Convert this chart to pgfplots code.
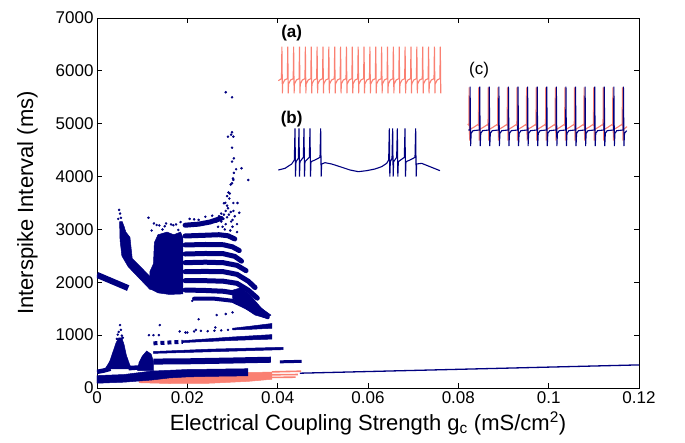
\documentclass[border=0pt]{standalone}
\usepackage{pgfplots}
\pgfplotsset{compat=1.18}
\usepackage{fontspec}
\setmainfont{Liberation Sans}
\definecolor{navy}{RGB}{0,0,128}
\definecolor{salm}{RGB}{250,128,114}
\begin{document}
\begin{tikzpicture}
\path[use as bounding box] (-97pt,-54pt) rectangle (588pt,388pt);
\begin{axis}[
 name=main, at={(0pt,0pt)}, anchor=south west,
 scale only axis, width=542pt, height=370pt,
 xmin=0, xmax=0.12, ymin=0, ymax=7000,
 xtick={0,0.02,0.04,0.06,0.08,0.1,0.12},
 xticklabels={0,0.02,0.04,0.06,0.08,0.1,0.12},
 ytick={0,1000,2000,3000,4000,5000,6000,7000},
 yticklabels={0,1000,2000,3000,4000,5000,6000,7000},
 tick align=inside, major tick length=5pt,
 every tick/.style={black, line width=0.8pt},
 axis line style={line width=0.9pt},
 ticklabel style={font=\fontsize{17}{17}\selectfont},
 label style={font=\fontsize{22}{22}\selectfont},
 xlabel={Electrical Coupling Strength g\textsubscript{c} (mS/cm\textsuperscript{2})},
 ylabel={Interspike Interval (ms)},
 xlabel style={at={(axis description cs:0.5,0)}, anchor=base, yshift=-42pt},
 ylabel style={at={(axis description cs:-0.118,0.5)}, anchor=base},
 navyband/.style={navy, line width=5pt, line cap=round},
 dots/.style={navy, only marks, mark=*, mark size=1.05pt},
]
% ---------- salmon (coupled, synchronous) ----------
\addplot[salm, fill=salm, line width=0.5pt] coordinates {(0.0093,100)(0.016,85)(0.025,90)(0.0334,125)(0.0387,165)(0.0387,300)(0.0334,295)(0.025,265)(0.016,215)(0.0093,180)(0.0093,100)};
\addplot[salm, line width=1.6pt] coordinates {(0.0387,305)(0.0452,318)};
\addplot[salm, line width=1.6pt] coordinates {(0.0387,250)(0.0445,255)};
\addplot[salm, line width=1.6pt] coordinates {(0.0387,200)(0.0440,205)};
% ---------- navy lower bands ----------
\addplot[navy, fill=navy, line width=0.5pt] coordinates {(0,90)(0,235)(0.006,255)(0.012,320)(0.02,350)(0.0334,365)(0.0334,230)(0.025,220)(0.02,210)(0.016,190)(0.012,150)(0.006,110)(0,90)};
\addplot[navy, line width=4.5pt] coordinates {(0,305)(0.0015,330)(0.003,365)};
\addplot[navy, fill=navy, line width=0.5pt] coordinates {(0.0018,360)(0.0028,500)(0.0036,700)(0.0042,850)(0.0048,950)(0.0055,950)(0.0060,820)(0.0065,620)(0.0072,450)(0.0077,360)(0.0018,360)};
\addplot[navy, line width=4.5pt] coordinates {(0.0070,375)(0.0095,390)};
\addplot[navy, fill=navy, line width=0.5pt] coordinates {(0.0090,330)(0.0093,480)(0.0100,600)(0.0110,700)(0.0120,640)(0.0125,500)(0.0125,330)(0.0090,330)};
\addplot[navy, line width=6pt] coordinates {(0.0125,500)(0.02,505)(0.03,520)(0.0385,535)};
\addplot[navy, line width=3pt] coordinates {(0.0405,495)(0.0453,505)};
\addplot[navy, fill=navy, line width=0.5pt] coordinates {(0.0125,655)(0.025,685)(0.0412,725)(0.0412,770)(0.025,735)(0.0125,690)(0.0125,655)};
\addplot[navy, line width=4pt, dash pattern=on 4pt off 3pt] coordinates {(0.0125,845)(0.019,875)};
\addplot[navy, fill=navy, line width=0.5pt] coordinates {(0.019,860)(0.03,900)(0.0387,925)(0.0387,1010)(0.03,965)(0.019,895)(0.019,860)};
\addplot[navy, fill=navy, line width=0.5pt] coordinates {(0.0300,1100)(0.034,1110)(0.0387,1130)(0.0387,1220)(0.034,1170)(0.0300,1130)(0.0300,1100)};
\addplot[dots] coordinates {(0.0200,1050)(0.0215,1070)(0.023,1080)(0.0245,1075)(0.026,1085)(0.0275,1090)(0.029,1100)
 (0.0048,1060)(0.0051,1190)(0.0053,1100)(0.0055,990)(0.0046,1010)(0.0057,950)(0.0044,930)
 (0.0115,1000)(0.0125,1000)(0.0137,1000)(0.0139,1190)(0.0183,1070)(0.0219,1100)(0.0196,1050)
 (0.0225,1300)(0.0262,1145)(0.0265,1380)(0.0285,1400)(0.030,1430)(0.0211,1650)(0.0342,1960)};
% final synchronous branch
\addplot[navy, line width=1.3pt] coordinates {(0.0449,280)(0.12,437)};
% ---------- navy upper region ----------
\addplot[navy, line width=6pt] coordinates {(0,2140)(0.0069,1890)};
\addplot[navy, fill=navy, line width=0.5pt] coordinates {(0.0050,3150)(0.0056,3150)(0.0064,2950)(0.0073,2850)(0.0078,2450)(0.0121,2080)(0.0121,1870)(0.0117,1867)(0.0069,2295)(0.0055,2500)(0.0051,2800)(0.0050,3150)};
\addplot[navy, fill=navy, line width=0.5pt] coordinates {(0.0117,1880)(0.0117,2200)(0.0125,2350)(0.0127,2750)(0.0135,2900)(0.0155,2950)(0.0170,2900)(0.0185,2950)(0.0190,2850)(0.0190,1780)(0.0160,1770)(0.0135,1800)(0.0117,1880)};
\addplot[navy, fill=navy, line width=0.5pt] coordinates {(0.030,1850)(0.032,1900)(0.034,1750)(0.0365,1500)(0.0385,1380)(0.0375,1320)(0.035,1380)(0.032,1550)(0.030,1700)(0.030,1850)};
\addplot[navyband] coordinates {(0.0195,3080)(0.0225,3100)(0.025,3140)(0.0275,3210)};
\addplot[navyband] coordinates {(0.0195,2876)(0.024,2890)(0.027,2900)(0.029,2880)(0.0305,2820)};
\addplot[navyband] coordinates {(0.0195,2706)(0.024,2715)(0.028,2710)(0.030,2670)(0.0315,2600)};
\addplot[navyband] coordinates {(0.0195,2535)(0.024,2545)(0.028,2540)(0.0305,2490)(0.032,2400)};
\addplot[navyband] coordinates {(0.0195,2371)(0.024,2380)(0.028,2370)(0.031,2320)(0.033,2220)};
\addplot[navyband] coordinates {(0.0195,2201)(0.024,2205)(0.028,2200)(0.031,2150)(0.0335,2020)(0.035,1900)};
\addplot[navyband] coordinates {(0.0195,2031)(0.024,2030)(0.028,2020)(0.031,1980)(0.0335,1850)(0.0355,1700)};
\addplot[navyband] coordinates {(0.0195,1854)(0.024,1845)(0.028,1830)(0.031,1790)(0.0335,1660)(0.0355,1520)(0.0375,1380)};
\addplot[navy, line width=4pt, line cap=round] coordinates {(0.0215,1690)(0.026,1690)(0.030,1650)(0.033,1530)(0.0355,1420)(0.0378,1340)};
\addplot[dots] coordinates {(0.0049,3370)(0.0051,3300)(0.0053,3220)(0.0047,3200)(0.0055,3100)(0.0058,3050)
 (0.0114,3220)(0.0126,3113)(0.0138,3076)(0.0153,3113)(0.0164,3095)(0.0175,3095)(0.0145,3000)(0.0132,3084)(0.015,3060)(0.0169,3080)(0.018,2990)(0.0121,2980)(0.0185,3140)(0.0205,3200)(0.0215,3190)(0.0225,3180)(0.024,3240)(0.0255,3260)
 (0.0265,3150)(0.027,3250)(0.0275,3300)(0.028,3200)(0.0285,3350)(0.029,3400)(0.0292,3280)(0.0297,3150)(0.030,3050)(0.0305,3250)(0.031,3100)(0.0285,3100)(0.0278,3050)(0.0295,2980)(0.031,2950)(0.0302,3350)(0.0288,3450)(0.0275,3150)(0.0283,3000)(0.0268,3050)(0.0288,3230)(0.0296,3330)(0.0281,3280)(0.0300,3180)
 (0.0285,5595)(0.0299,5500)(0.0299,4838)(0.029,4755)(0.0302,4755)(0.0299,4547)(0.0303,4345)(0.0299,4283)(0.0308,4138)(0.032,4157)(0.0301,3964)(0.0302,3937)(0.0335,3935)(0.0299,3875)(0.0291,3700)(0.0294,3680)(0.0293,3585)(0.0281,3495)(0.0302,3500)(0.0311,3500)(0.0297,4793)(0.0303,4070)(0.0296,3850)(0.0284,3503)(0.0315,3315)(0.0288,3630)};
\end{axis}
% ---------- insets (a) and (b) ----------
\begin{axis}[at={(173pt,198pt)}, anchor=south west, scale only axis, width=220pt, height=170pt,
 xmin=0, xmax=660, ymin=0, ymax=510, y dir=reverse, hide axis, clip=false]
\addplot[salm, line width=1.1pt] coordinates {(25,182)
(34.4,176)(35.7,80)(37.2,220)(38,192)(44,180)
(52,176)(53.3,80)(54.8,220)(55.6,192)(61.6,180)
(69.6,176)(70.9,80)(72.4,220)(73.2,192)(79.2,180)
(87.2,176)(88.5,80)(90,220)(90.8,192)(96.8,180)
(104.8,176)(106.1,80)(107.6,220)(108.4,192)(114.4,180)
(122.4,176)(123.7,80)(125.2,220)(126,192)(132,180)
(140,176)(141.3,80)(142.8,220)(143.6,192)(149.6,180)
(157.6,176)(158.9,80)(160.4,220)(161.2,192)(167.2,180)
(175.2,176)(176.5,80)(178,220)(178.8,192)(184.8,180)
(192.8,176)(194.1,80)(195.6,220)(196.4,192)(202.4,180)
(210.4,176)(211.7,80)(213.2,220)(214,192)(220,180)
(228,176)(229.3,80)(230.8,220)(231.6,192)(237.6,180)
(245.6,176)(246.9,80)(248.4,220)(249.2,192)(255.2,180)
(263.2,176)(264.5,80)(266,220)(266.8,192)(272.8,180)
(280.8,176)(282.1,80)(283.6,220)(284.4,192)(290.4,180)
(298.4,176)(299.7,80)(301.2,220)(302,192)(308,180)
(316,176)(317.3,80)(318.8,220)(319.6,192)(325.6,180)
(333.6,176)(334.9,80)(336.4,220)(337.2,192)(343.2,180)
(351.2,176)(352.5,80)(354,220)(354.8,192)(360.8,180)
(368.8,176)(370.1,80)(371.6,220)(372.4,192)(378.4,180)
(386.4,176)(387.7,80)(389.2,220)(390,192)(396,180)
(404,176)(405.3,80)(406.8,220)(407.6,192)(413.6,180)
(421.6,176)(422.9,80)(424.4,220)(425.2,192)(431.2,180)
(439.2,176)(440.5,80)(442,220)(442.8,192)(448.8,180)
(456.8,176)(458.1,80)(459.6,220)(460.4,192)(466.4,180)
(474.4,176)(475.7,80)(477.2,220)(478,192)(484,180)
(492,176)(493.3,80)(494.8,220)(495.6,192)(501.6,180)
(509.6,176)(510.9,80)(512.4,220)};
\addplot[navy, line width=1.1pt] coordinates {(25,450)(45,445)(65,432)(73,420)(75,325)(76.5,470)(78,425)(85,415)(87,325)(88.5,470)(90,425)(100,412)(102,325)(103.5,470)(105,425)(118,412)(120,325)(121.5,470)(123,425)(135,420)(150,412)(152,325)(153.5,470)(155,432)(165,428)(185,432)(210,440)(240,450)(265,455)(290,452)(315,447)(335,440)(350,430)(356,420)(358,325)(359.5,470)(361,425)(366,415)(368,325)(369.5,470)(371,425)(380,412)(382,325)(383.5,470)(385,425)(403,412)(405,325)(406.5,470)(408,425)(420,420)(435,412)(437,325)(438.5,470)(440,432)(455,430)(480,440)(510,452)};
\node[font=\bfseries\fontsize{17}{17}\selectfont] at (axis cs:65,38) {(a)};
\node[font=\bfseries\fontsize{17}{17}\selectfont] at (axis cs:65,298) {(b)};
\end{axis}
% ---------- inset (c) ----------
\begin{axis}[at={(363pt,228pt)}, anchor=south west, scale only axis, width=225pt, height=110pt,
 xmin=0, xmax=675, ymin=0, ymax=330, y dir=reverse, hide axis, clip=false]
\addplot[salm, line width=1.1pt] coordinates {(23,222)
(26.5,226)(27.3,112)(28.8,272)(30.5,238)(41,232)(53,224)
(55.3,226)(56.1,112)(57.6,272)(59.3,238)(69.8,232)(81.8,224)
(84,226)(84.8,112)(86.3,272)(88,238)(98.5,232)(110.5,224)
(112.8,226)(113.6,112)(115.1,272)(116.8,238)(127.3,232)(139.3,224)
(141.5,226)(142.3,112)(143.8,272)(145.5,238)(156,232)(168,224)
(170.3,226)(171.1,112)(172.6,272)(174.3,238)(184.8,232)(196.8,224)
(199,226)(199.8,112)(201.3,272)(203,238)(213.5,232)(225.5,224)
(227.8,226)(228.6,112)(230.1,272)(231.8,238)(242.3,232)(254.3,224)
(256.5,226)(257.3,112)(258.8,272)(260.5,238)(271,232)(283,224)
(285.3,226)(286.1,112)(287.6,272)(289.3,238)(299.8,232)(311.8,224)
(314,226)(314.8,112)(316.3,272)(318,238)(328.5,232)(340.5,224)
(342.8,226)(343.6,112)(345.1,272)(346.8,238)(357.3,232)(369.3,224)
(371.5,226)(372.3,112)(373.8,272)(375.5,238)(386,232)(398,224)
(400.3,226)(401.1,112)(402.6,272)(404.3,238)(414.8,232)(426.8,224)
(429,226)(429.8,112)(431.3,272)(433,238)(443.5,232)(455.5,224)
(457.8,226)(458.6,112)(460.1,272)(461.8,238)(472.3,232)(484.3,224)
(486.5,226)(487.3,112)(488.8,272)(490.5,238)(501,230)};
\addplot[navy, line width=1.1pt] coordinates {(25,240)
(29.5,240)(30.3,110)(31.8,288)(33.5,250)(39,242)
(58.3,240)(59.1,110)(60.6,288)(62.3,250)(67.8,242)
(87,240)(87.8,110)(89.3,288)(91,250)(96.5,242)
(115.8,240)(116.6,110)(118.1,288)(119.8,250)(125.3,242)
(144.5,240)(145.3,110)(146.8,288)(148.5,250)(154,242)
(173.3,240)(174.1,110)(175.6,288)(177.3,250)(182.8,242)
(202,240)(202.8,110)(204.3,288)(206,250)(211.5,242)
(230.8,240)(231.6,110)(233.1,288)(234.8,250)(240.3,242)
(259.5,240)(260.3,110)(261.8,288)(263.5,250)(269,242)
(288.3,240)(289.1,110)(290.6,288)(292.3,250)(297.8,242)
(317,240)(317.8,110)(319.3,288)(321,250)(326.5,242)
(345.8,240)(346.6,110)(348.1,288)(349.8,250)(355.3,242)
(374.5,240)(375.3,110)(376.8,288)(378.5,250)(384,242)
(403.3,240)(404.1,110)(405.6,288)(407.3,250)(412.8,242)
(432,240)(432.8,110)(434.3,288)(436,250)(441.5,242)
(460.8,240)(461.6,110)(463.1,288)(464.8,250)(470.3,242)
(489.5,240)(490.3,110)(491.8,288)(493.5,250)(500,242)};
\node[font=\fontsize{17}{17}\selectfont] at (axis cs:57,60) {(c)};
\end{axis}
\end{tikzpicture}
\end{document}
